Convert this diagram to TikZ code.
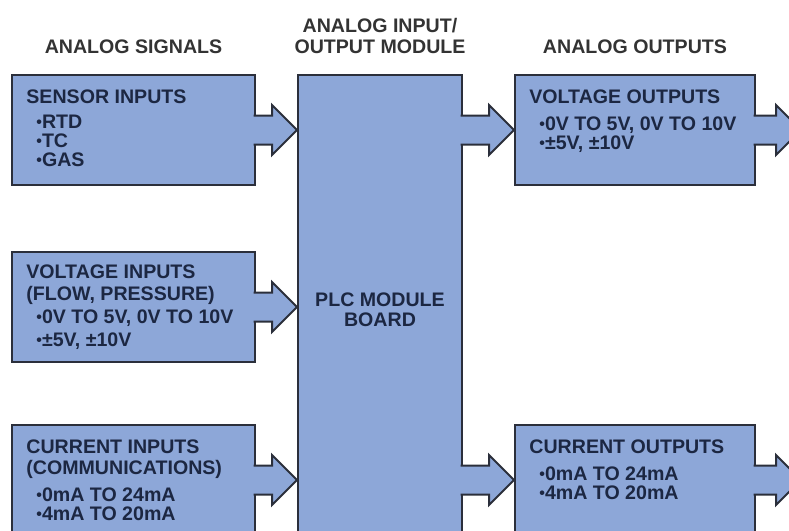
\documentclass[tikz,border=0pt]{standalone}
\usepackage{fontspec}
\setmainfont{Liberation Sans}
\usetikzlibrary{positioning,calc}
\definecolor{boxblue}{HTML}{8DA7D8}
\definecolor{edge}{HTML}{2B2F3B}
\definecolor{navy}{HTML}{1C2742}
\definecolor{heading}{HTML}{333333}
\newcommand{\itm}{\hspace*{5pt}\raisebox{0.5pt}{\fontsize{8}{8}\selectfont\textbullet}}
\newcommand{\fatarrow}[2]{%
  \filldraw[blockarrow] ($(#1)+(-1.2pt,7.25pt)$) -- ($(#2)+(-12.5pt,7.25pt)$)
    -- ($(#2)+(-12.5pt,12.5pt)$) -- (#2) -- ($(#2)+(-12.5pt,-12.5pt)$)
    -- ($(#2)+(-12.5pt,-7.25pt)$) -- ($(#1)+(-1.2pt,-7.25pt)$);}

\begin{document}
\begin{tikzpicture}[font=\bfseries\fontsize{9.8}{9.5}\selectfont,
    box/.style={draw=edge, fill=boxblue, line width=1pt, inner sep=0pt,
      minimum width=121.5pt, minimum height=55pt},
    boxtext/.style={text=navy, align=left, inner sep=0pt},
    header/.style={text=heading, align=center, inner sep=0pt,
      font=\bfseries\fontsize{9.8}{10.5}\selectfont},
    blockarrow/.style={draw=edge, fill=boxblue, line width=1pt}]
    \useasboundingbox (0,0) rectangle (394.5pt,-265.5pt);
    \clip (0,0) rectangle (394.5pt,-265.5pt);

    \node[box] (sensor) at (66.75pt,-65pt) {};
    \node[box, below=32.5pt of sensor] (voltin) {};
    \node[box, below=30.5pt of voltin] (currin) {};
    \node[box, text=navy, align=center, font=\bfseries\fontsize{9.8}{10}\selectfont,
          minimum width=82pt, minimum height=235pt,
          right=20.5pt of sensor.north east, anchor=north west] (plc) {PLC MODULE\\BOARD};
    \node[box, minimum width=120pt, right=25.5pt of plc.north east, anchor=north west] (voltout) {};
    \node[box, minimum width=120pt, anchor=north] (currout) at (currin.north -| voltout.north) {};

    \node[header, above=10pt of sensor] (hsignals) {ANALOG SIGNALS};
    \node[header, above=10pt of plc] (hmodule) {ANALOG INPUT/\\OUTPUT MODULE};
    \node[header, above=10pt of voltout] (houtputs) {ANALOG OUTPUTS};

    \node[boxtext, below right=7.5pt and 7.5pt of sensor.north west] (sensortxt)
         {SENSOR INPUTS\\[3pt]\itm RTD\\\itm TC\\\itm GAS};
    \node[boxtext, below right=6.5pt and 7.5pt of voltin.north west] (voltintxt)
         {VOLTAGE INPUTS\\[1.5pt](FLOW, PRESSURE)\\[2pt]\itm 0V TO 5V, 0V TO 10V\\[2pt]\itm ±5V, ±10V};
    \node[boxtext, below right=7.5pt and 7.5pt of currin.north west] (currintxt)
         {CURRENT INPUTS\\[1.3pt](COMMUNICATIONS)\\[3.8pt]\itm 0mA TO 24mA\\\itm 4mA TO 20mA};
    \node[boxtext, below right=7.5pt and 7.5pt of voltout.north west] (voltouttxt)
         {VOLTAGE OUTPUTS\\[4pt]\itm 0V TO 5V, 0V TO 10V\\\itm ±5V, ±10V};
    \node[boxtext, below right=7.5pt and 7.5pt of currout.north west] (currouttxt)
         {CURRENT OUTPUTS\\[4pt]\itm 0mA TO 24mA\\\itm 4mA TO 20mA};

    \coordinate (tsensor) at (plc.west |- sensor.east);
    \coordinate (tvoltin) at (plc.west |- voltin.east);
    \coordinate (tcurrin) at (plc.west |- currin.east);
    \coordinate (svoltout) at (plc.east |- voltout.west);
    \coordinate (scurrout) at (plc.east |- currout.west);
    \coordinate (tvoltend) at ($(voltout.east)+(22.5pt,0)$);
    \coordinate (tcurrend) at ($(currout.east)+(22.5pt,0)$);

    \fatarrow{sensor.east}{tsensor}
    \fatarrow{voltin.east}{tvoltin}
    \fatarrow{currin.east}{tcurrin}
    \fatarrow{svoltout}{voltout.west}
    \fatarrow{scurrout}{currout.west}
    \fatarrow{voltout.east}{tvoltend}
    \fatarrow{currout.east}{tcurrend}
\end{tikzpicture}
\end{document}
